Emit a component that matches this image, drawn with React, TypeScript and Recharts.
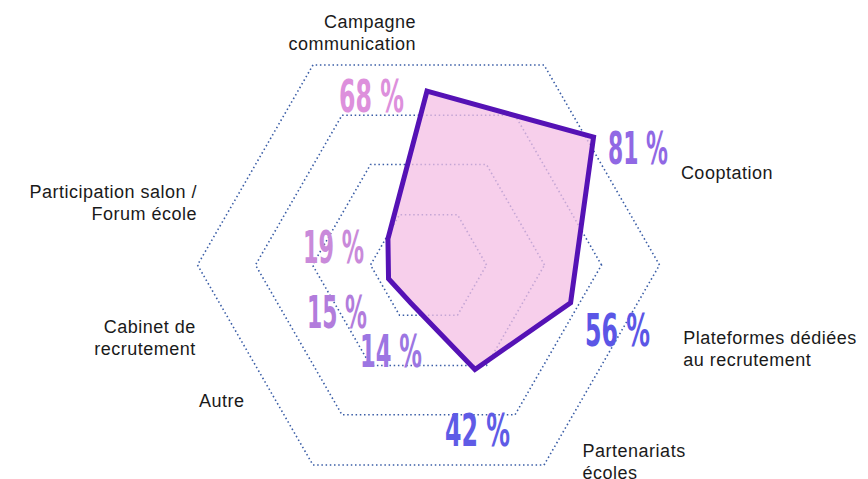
import { RadarChart, Radar, PolarGrid, PolarAngleAxis, PolarRadiusAxis } from 'recharts'

const CATEGORIES = [
  'Campagne\ncommunication',
  'Cooptation',
  'Plateformes dédiées\nau recrutement',
  'Partenariats\nécoles',
  'Autre',
  'Cabinet de\nrecrutement',
  'Participation salon /\nForum école',
]
const VALUES = [68, 81, 56, 42, 14, 15, 19]
const GRID_ANGLES = [0, 60, 120, 180, 240, 300]
const GRID_RADII = [58, 116, 173, 231]

const data = CATEGORIES.map((name, i) => ({ name, value: VALUES[i] }))

// label placement, relative to the axis tick point
const CAT_POS = [
  { dx: -11, dy: 29, anchor: 'end' },
  { dx: 42, dy: 78, anchor: 'start' },
  { dx: -8, dy: 14, anchor: 'start' },
  { dx: 38, dy: -57, anchor: 'start' },
  { dx: -65, dy: -107, anchor: 'end' },
  { dx: 33, dy: 3, anchor: 'end' },
  { dx: -18, dy: 97, anchor: 'end' },
]
// percentage labels, relative to the data point
const PCT_POS = [
  { dx: -88, dy: 21, w: 65 },
  { dx: 14.5, dy: 27, w: 60 },
  { dx: 14.4, dy: 43, w: 65 },
  { dx: -30, dy: 76.5, w: 65 },
  { dx: -51, dy: 64, w: 62 },
  { dx: -81.5, dy: 49, w: 60 },
  { dx: -85, dy: 24, w: 61 },
]
const PCT_COLORS = ['#dd90dc', '#9068e4', '#5b56e6', '#5f5be6', '#9c76e2', '#b27cdc', '#c98ada']

const W = 868
const H = 479
const noMargin = { top: 0, right: 0, bottom: 0, left: 0 }

function CategoryTick(props: any) {
  const { x, y, index, payload } = props
  const p = CAT_POS[index]
  const lines = String(payload.value).split('\n')
  return (
    <text
      x={x + p.dx}
      y={y + p.dy}
      textAnchor={p.anchor}
      fill="#1a1a1a"
      fontFamily="'Liberation Sans', Arial, sans-serif"
      fontSize={18}
      letterSpacing={0.5}
    >
      {lines.map((l, i) => (
        <tspan key={i} x={x + p.dx} dy={i === 0 ? 0 : 22}>{l}</tspan>
      ))}
    </text>
  )
}

function PctDot(props: any) {
  const { cx, cy, index, payload } = props
  const p = PCT_POS[index]
  const v = payload?.value ?? VALUES[index]
  return (
    <text
      key={`pct-${index}`}
      x={cx + p.dx}
      y={cy + p.dy}
      fill={PCT_COLORS[index]}
      fontFamily="'Liberation Sans Narrow', 'DejaVu Sans Condensed', sans-serif"
      fontWeight="bold"
      fontSize={44}
      textLength={p.w}
      lengthAdjust="spacingAndGlyphs"
    >
      {`${v} %`}
    </text>
  )
}

export default function App() {
  return (
    <div style={{ position: 'absolute', left: 0, top: 0, width: W, height: H, background: '#fff' }}>
      <div style={{ position: 'absolute', left: 0, top: 0 }}>
        <RadarChart width={W} height={H} data={data} cx={428.5} cy={265} outerRadius={231} margin={noMargin}>
          <PolarGrid
            gridType="polygon"
            polarAngles={GRID_ANGLES}
            polarRadius={GRID_RADII}
            radialLines={false}
            stroke="#3a5da6"
            strokeWidth={1.6}
            strokeDasharray="1.5 2.7"
          />
        </RadarChart>
      </div>
      <div style={{ position: 'absolute', left: 0, top: 0 }}>
        <RadarChart width={W} height={H} data={data} cx={427} cy={270} outerRadius={263} margin={noMargin}>
          <PolarAngleAxis dataKey="name" tick={<CategoryTick />} tickLine={false} axisLine={false} />
          <PolarRadiusAxis domain={[0, 100]} tick={false} axisLine={false} />
          <Radar
            dataKey="value"
            stroke="#5512b5"
            strokeWidth={5}
            fill="#f4bfe4"
            fillOpacity={0.75}
            dot={(p: any) => <PctDot {...p} key={`d${p.index}`} />}
            isAnimationActive={false}
          />
        </RadarChart>
      </div>
    </div>
  )
}
